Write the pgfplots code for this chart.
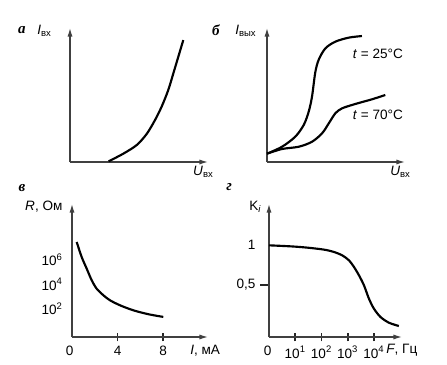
\documentclass[border=0pt]{standalone}
\usepackage{fontspec}
\setmainfont{Liberation Sans}
\newfontfamily\letfont{Liberation Serif}
\usepackage{pgfplots}
\pgfplotsset{compat=1.18}
\usetikzlibrary{arrows.meta}
\pgfplotsset{
 panel/.style={scale only axis, axis lines=left, clip=false,
  axis line style={black!75, line width=0.9pt, -{Latex[length=6pt,width=3.6pt]}},
  xtick=\empty, ytick=\empty,
  major tick length=6pt,
  tick style={draw=black!85, line width=1.2pt, arrows=-},
  every tick label/.append style={font=\fontsize{9.5}{11}\selectfont},
  /pgf/number format/assume math mode=true,
  cycle list={{black, line width=1.5pt, smooth, mark=none}\\},
 }
}
\newcommand{\lab}[1]{{\letfont\fontsize{10.5}{12}\selectfont\bfseries\itshape #1}}
\newcommand{\txt}{\fontsize{9.5}{11}\selectfont}
\begin{document}
\begin{tikzpicture}
\useasboundingbox (0,0) rectangle (312.9pt,254.8pt);
% ---- panel a ----
\begin{axis}[panel, at={(49pt,141.4pt)}, anchor=south west,
  width=96.6pt, height=93.8pt, xmin=0, xmax=10, ymin=0, ymax=10]
\addplot table {
x y
2.80 0.05
3.86 0.62
4.84 1.27
5.56 2.10
6.16 3.13
6.64 4.13
7.12 5.37
7.49 6.62
7.85 7.86
8.21 9.10
};
\node[anchor=center] at (axis description cs:-0.348,0.985) {\lab{а}};
\node[anchor=west, inner sep=0pt] at (axis description cs:-0.239,0.978) {\txt\textit{I}\textsubscript{вх}};
\node[anchor=north west, inner sep=0pt] at (axis description cs:0.891,-0.03) {\txt\textit{U}\textsubscript{вх}};
\end{axis}
% ---- panel b ----
\begin{axis}[panel, at={(186.9pt,141.4pt)}, anchor=south west,
  width=96.6pt, height=93.8pt, xmin=0, xmax=10, ymin=0, ymax=10]
\addplot table {
x y
0.00 0.62
1.09 1.14
2.05 1.89
2.66 2.76
3.02 3.75
3.26 4.87
3.50 6.70
3.75 7.64
4.23 8.48
4.95 8.98
5.92 9.28
6.88 9.40
};
\addplot table {
x y
0.00 0.62
1.09 0.97
2.30 1.14
3.26 1.51
3.99 2.14
4.48 2.89
4.95 3.63
5.43 4.00
6.40 4.33
7.61 4.68
8.57 5.00
};
\node[anchor=west, inner sep=0pt] at (axis cs:6.2,8.06) {\txt\textit{t} = 25°C};
\node[anchor=west, inner sep=0pt] at (axis cs:6.2,3.5) {\txt\textit{t} = 70°C};
\node[anchor=center] at (axis description cs:-0.37,0.985) {\lab{б}};
\node[anchor=west, inner sep=0pt] at (axis description cs:-0.232,0.978) {\txt\textit{I}\textsubscript{вых}};
\node[anchor=north west, inner sep=0pt] at (axis description cs:0.891,-0.03) {\txt\textit{U}\textsubscript{вх}};
\end{axis}
% ---- panel v ----
\begin{axis}[panel, at={(50.4pt,18.9pt)}, anchor=south west,
  width=95.2pt, height=93.1pt, xmin=0, xmax=11.93, ymin=-0.29, ymax=10.57,
  xtick={4,8}, xticklabels={4,8}, xtick align=center,
  ytick={2,4,6}, yticklabels={{10\textsuperscript{2}},{10\textsuperscript{4}},{10\textsuperscript{6}}},
  y tick style={draw=none}]
\addplot table {
x y
0.41 7.47
0.85 6.24
1.29 5.29
1.73 4.34
2.16 3.66
2.75 3.12
3.33 2.71
4.21 2.30
5.38 1.89
6.70 1.57
8.01 1.35
};
\node[anchor=north, font=\txt] at (axis cs:-0.2,-0.29) [yshift=-3pt] {0};
\node[anchor=center] at (axis description cs:-0.368,1.12) {\lab{в}};
\node[anchor=west, inner sep=0pt] at (axis description cs:-0.346,0.977) {\txt\textit{R}, Ом};
\node[anchor=west, inner sep=0pt] at (axis description cs:0.868,-0.1) {\txt\textit{I}, мА};
\end{axis}
% ---- panel g ----
\begin{axis}[panel, at={(188.3pt,18.9pt)}, anchor=south west,
  width=93.1pt, height=93.1pt, xmin=0, xmax=5.07, ymin=-0.15, ymax=1.5125,
  xtick={1,2,3,4}, xticklabels={{10\textsuperscript{1}},{10\textsuperscript{2}},{10\textsuperscript{3}},{10\textsuperscript{4}}},
  xtick align=center,
  ytick={0.5}, yticklabels={0{,}5}, ytick align=outside]
\addplot table {
x y
0.00 0.996
0.83 0.983
1.46 0.967
2.10 0.942
2.48 0.9125
2.79 0.871
3.05 0.808
3.24 0.725
3.43 0.621
3.62 0.496
3.81 0.329
4.00 0.204
4.25 0.100
4.57 0.029
4.95 -0.0125
};
\node[anchor=north, font=\txt] at (axis cs:-0.05,-0.15) [yshift=-3pt] {0};
\node[anchor=east, font=\txt] at (axis cs:0,1) [xshift=-6pt] {1};
\node[anchor=center] at (axis description cs:-0.30,1.128) {\lab{г}};
\node[anchor=west, inner sep=0pt] at (axis description cs:-0.15,0.977) {\txt K\textsubscript{\textit{i}}};
\node[anchor=west, inner sep=0pt] at (axis description cs:0.88,-0.1) {\txt\textit{F}, Гц};
\end{axis}
\end{tikzpicture}
\end{document}
